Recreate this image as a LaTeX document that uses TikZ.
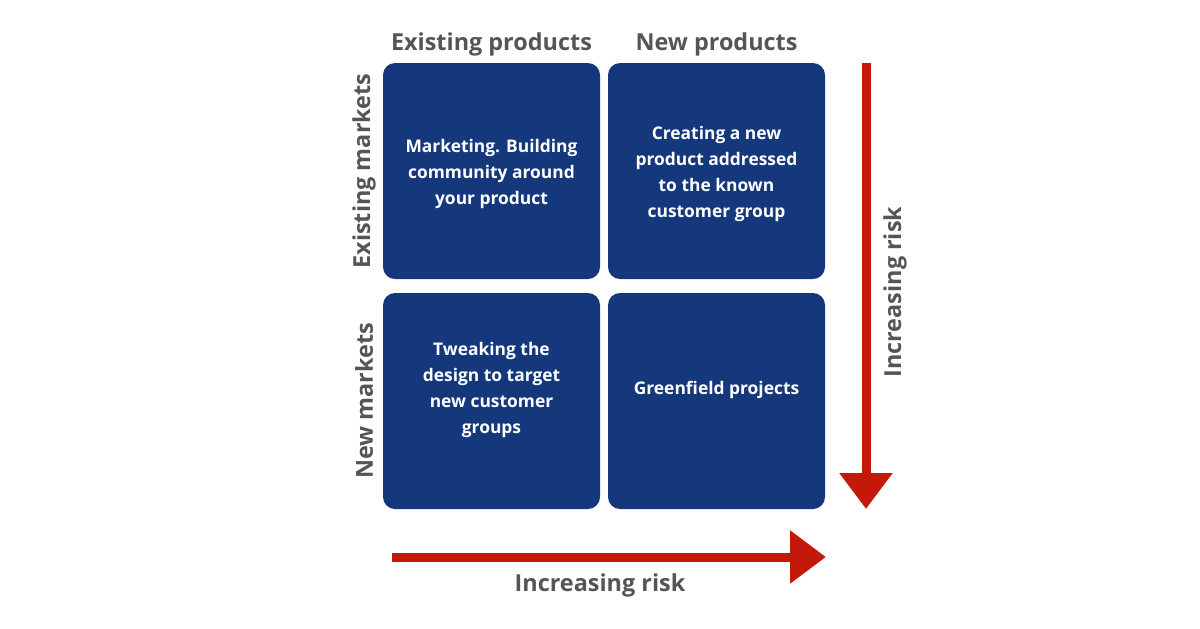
\documentclass[tikz,border=0pt]{standalone}
\usepackage{fontspec}
\setmainfont{Open Sans}
\usepackage{tikz}
\usetikzlibrary{arrows.meta, positioning}
\definecolor{cellblue}{HTML}{15387D}
\definecolor{riskred}{HTML}{C3180A}
\definecolor{labelgray}{HTML}{555555}

\begin{document}
\begin{tikzpicture}[
    x=0.5pt, y=-0.5pt,
    cell/.style={rectangle, rounded corners=6pt, fill=cellblue, minimum width=108.5pt, minimum height=108pt, inner sep=0pt},
    celltext/.style={text=white, font=\fontsize{8.7pt}{13pt}\selectfont\bfseries, align=center},
    axislabel/.style={text=labelgray, font=\fontsize{11.7pt}{13pt}\selectfont\bfseries},
    riskarrow/.style={-{Triangle[length=18pt, width=25.5pt]}, line width=4.5pt, riskred}
]
\useasboundingbox (0,0) rectangle (1200,628);

% Quadrants
\node[cell] (c11) at (491.5,171) {};
\node[cell] (c12) at (716.5,171) {};
\node[cell] (c21) at (491.5,401) {};
\node[cell] (c22) at (716.5,401) {};

\node[celltext] (t11) at ([yshift=-1.5pt]c11.center) {Marketing. Building\\community around\\your product};
\node[celltext] (t12) at ([yshift=-1.5pt]c12.center) {Creating a new\\product addressed\\to the known\\customer group};
\node[celltext] (t21) at ([yshift=5.5pt]c21.center) {Tweaking the\\design to target\\new customer\\groups};
\node[celltext] (t22) at ([yshift=5.5pt]c22.center) {Greenfield projects};

% Column and row labels
\node[axislabel] (colA) at (491.5,44) {Existing products};
\node[axislabel] (colB) at (716.5,44) {New products};
\node[axislabel, rotate=90] (rowA) at (364,171) {Existing markets};
\node[axislabel, rotate=90] (rowB) at (364,401) {New markets};

% Risk arrows
\coordinate (vstart) at (866,63);
\coordinate (vend) at (866,509);
\coordinate (hstart) at (392,557);
\coordinate (hend) at (826,557);
\draw[riskarrow] (vstart) -- (vend);
\draw[riskarrow] (hstart) -- (hend);

\node[axislabel, rotate=90] (riskV) at (895,292) {Increasing risk};
\node[axislabel] (riskH) at (600,585) {Increasing risk};
\end{tikzpicture}
\end{document}
